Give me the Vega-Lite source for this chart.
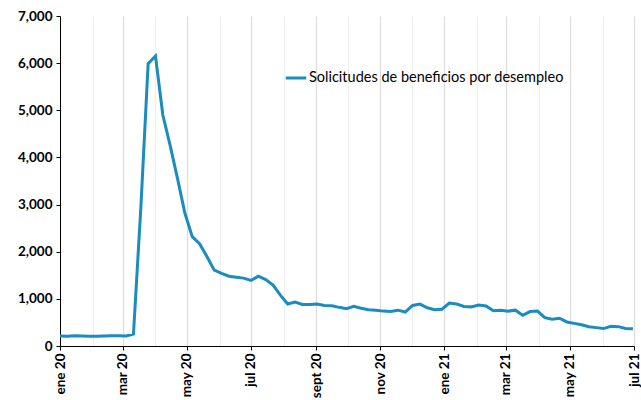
{
  "$schema": "https://vega.github.io/schema/vega-lite/v6.json",
  "width": 574,
  "height": 330,
  "autosize": {"type": "none"},
  "padding": {"left": 60, "top": 16, "right": 7, "bottom": 54},
  "background": "white",
  "config": {
    "view": {"stroke": null},
    "font": "Lato",
    "axis": {"labelFont": "Lato", "labelColor": "#000000", "domainColor": "#000000", "tickColor": "#000000"}
  },
  "data": {
    "values": [
      {"fecha": "2020-01-01", "valor": 212},
      {"fecha": "2020-01-08", "valor": 205},
      {"fecha": "2020-01-15", "valor": 215},
      {"fecha": "2020-01-22", "valor": 212},
      {"fecha": "2020-01-29", "valor": 205},
      {"fecha": "2020-02-05", "valor": 205},
      {"fecha": "2020-02-12", "valor": 212},
      {"fecha": "2020-02-19", "valor": 218},
      {"fecha": "2020-02-26", "valor": 216},
      {"fecha": "2020-03-04", "valor": 211},
      {"fecha": "2020-03-11", "valor": 251},
      {"fecha": "2020-03-18", "valor": 2920},
      {"fecha": "2020-03-25", "valor": 5990},
      {"fecha": "2020-04-01", "valor": 6150},
      {"fecha": "2020-04-08", "valor": 4900},
      {"fecha": "2020-04-15", "valor": 4250},
      {"fecha": "2020-04-22", "valor": 3550},
      {"fecha": "2020-04-29", "valor": 2820},
      {"fecha": "2020-05-06", "valor": 2320},
      {"fecha": "2020-05-13", "valor": 2170},
      {"fecha": "2020-05-20", "valor": 1900},
      {"fecha": "2020-05-27", "valor": 1610},
      {"fecha": "2020-06-03", "valor": 1540},
      {"fecha": "2020-06-10", "valor": 1480},
      {"fecha": "2020-06-17", "valor": 1460},
      {"fecha": "2020-06-24", "valor": 1440},
      {"fecha": "2020-07-01", "valor": 1390},
      {"fecha": "2020-07-08", "valor": 1480},
      {"fecha": "2020-07-15", "valor": 1410},
      {"fecha": "2020-07-22", "valor": 1290},
      {"fecha": "2020-07-29", "valor": 1080},
      {"fecha": "2020-08-05", "valor": 890},
      {"fecha": "2020-08-12", "valor": 930},
      {"fecha": "2020-08-19", "valor": 880},
      {"fecha": "2020-08-26", "valor": 880},
      {"fecha": "2020-09-02", "valor": 890},
      {"fecha": "2020-09-09", "valor": 860},
      {"fecha": "2020-09-16", "valor": 855},
      {"fecha": "2020-09-23", "valor": 820},
      {"fecha": "2020-09-30", "valor": 790},
      {"fecha": "2020-10-07", "valor": 840},
      {"fecha": "2020-10-14", "valor": 800},
      {"fecha": "2020-10-21", "valor": 770},
      {"fecha": "2020-10-28", "valor": 760},
      {"fecha": "2020-11-04", "valor": 740},
      {"fecha": "2020-11-11", "valor": 730},
      {"fecha": "2020-11-18", "valor": 760},
      {"fecha": "2020-11-25", "valor": 720},
      {"fecha": "2020-12-02", "valor": 860},
      {"fecha": "2020-12-09", "valor": 890},
      {"fecha": "2020-12-16", "valor": 810},
      {"fecha": "2020-12-23", "valor": 770},
      {"fecha": "2020-12-30", "valor": 780},
      {"fecha": "2021-01-06", "valor": 910},
      {"fecha": "2021-01-13", "valor": 890},
      {"fecha": "2021-01-20", "valor": 840},
      {"fecha": "2021-01-27", "valor": 830},
      {"fecha": "2021-02-03", "valor": 870},
      {"fecha": "2021-02-10", "valor": 850},
      {"fecha": "2021-02-17", "valor": 750},
      {"fecha": "2021-02-24", "valor": 760},
      {"fecha": "2021-03-03", "valor": 740},
      {"fecha": "2021-03-10", "valor": 760},
      {"fecha": "2021-03-17", "valor": 650},
      {"fecha": "2021-03-24", "valor": 730},
      {"fecha": "2021-03-31", "valor": 740},
      {"fecha": "2021-04-07", "valor": 600},
      {"fecha": "2021-04-14", "valor": 570},
      {"fecha": "2021-04-21", "valor": 590},
      {"fecha": "2021-04-28", "valor": 510},
      {"fecha": "2021-05-05", "valor": 480},
      {"fecha": "2021-05-12", "valor": 450},
      {"fecha": "2021-05-19", "valor": 410},
      {"fecha": "2021-05-26", "valor": 390},
      {"fecha": "2021-06-02", "valor": 370},
      {"fecha": "2021-06-09", "valor": 420},
      {"fecha": "2021-06-16", "valor": 410},
      {"fecha": "2021-06-23", "valor": 370},
      {"fecha": "2021-06-30", "valor": 365}
    ]
  },
  "mark": {"type": "line", "strokeWidth": 3, "strokeJoin": "miter", "clip": true},
  "encoding": {
    "x": {
      "field": "fecha",
      "type": "temporal",
      "scale": {"type": "utc", "domain": ["2020-01-01", "2021-07-01"]},
      "axis": {
        "title": null,
        "values": ["2020-01-01", "2020-02-01", "2020-03-01", "2020-04-01", "2020-05-01", "2020-06-01", "2020-07-01", "2020-08-01", "2020-09-01", "2020-10-01", "2020-11-01", "2020-12-01", "2021-01-01", "2021-02-01", "2021-03-01", "2021-04-01", "2021-05-01", "2021-06-01", "2021-07-01"],
        "labelExpr": "utcmonth(datum.value) % 2 == 0 ? ['ene','feb','mar','abr','may','jun','jul','ago','sept','oct','nov','dic'][utcmonth(datum.value)] + ' ' + utcFormat(datum.value, '%y') : ''",
        "labelAngle": -90,
        "labelFontSize": 13.5,
        "labelFontWeight": "bold",
        "labelPadding": 3,
        "labelOverlap": false,
        "labelBound": false,
        "labelFlush": false,
        "tickSize": 4,
        "tickOpacity": {"condition": {"test": "utcmonth(datum.value) % 2 == 0", "value": 1}, "value": 0},
        "grid": true,
        "gridColor": {"condition": {"test": "utcmonth(datum.value) % 2 == 0", "value": "#dcdcdc"}, "value": "#eeeeee"},
        "gridWidth": 1.2
      }
    },
    "y": {
      "field": "valor",
      "type": "quantitative",
      "scale": {"domain": [0, 7000], "nice": false},
      "axis": {
        "title": null,
        "values": [0, 1000, 2000, 3000, 4000, 5000, 6000, 7000],
        "format": ",.0f",
        "grid": false,
        "labelFontSize": 13.5,
        "labelFontWeight": "bold",
        "labelPadding": 4,
        "tickSize": 4
      }
    },
    "color": {
      "datum": "Solicitudes de beneficios por desempleo",
      "scale": {"range": ["#1a8cbf"]},
      "legend": {
        "title": null,
        "orient": "none",
        "legendX": 224,
        "legendY": 50,
        "symbolType": "stroke",
        "symbolSize": 420,
        "symbolStrokeWidth": 3,
        "labelFontSize": 14.5,
        "labelFont": "Lato",
        "labelColor": "#000000",
        "labelOffset": 1,
        "labelLimit": 500
      }
    }
  }
}
